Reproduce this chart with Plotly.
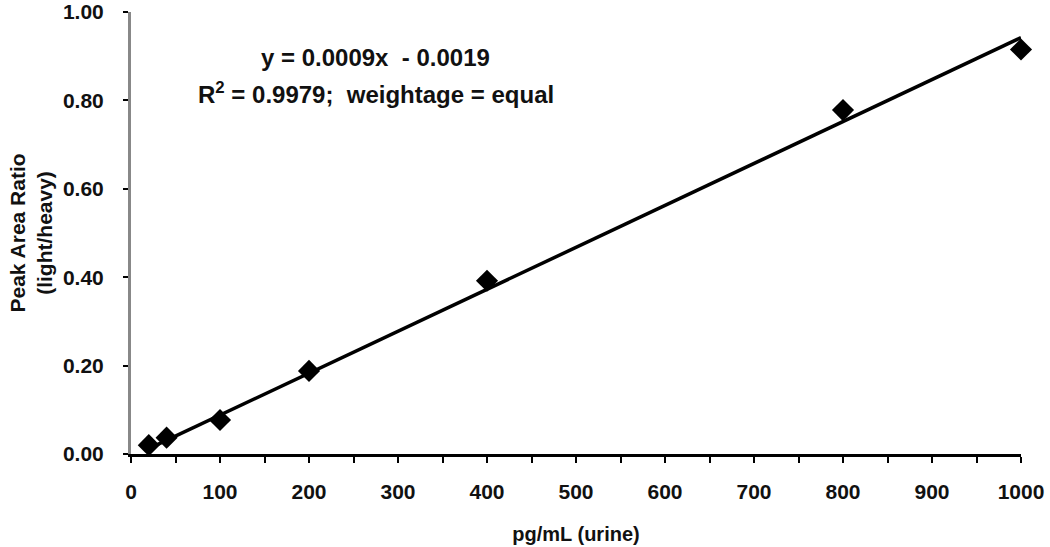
import plotly.graph_objects as go

# Data
conc = [20, 40, 100, 200, 400, 800, 1000]
ratio = [0.020, 0.037, 0.077, 0.188, 0.392, 0.778, 0.915]
trend_x = [20, 1000]
trend_y = [0.012, 0.942]
x_ticks = [0, 100, 200, 300, 400, 500, 600, 700, 800, 900, 1000]
y_ticks = [0.0, 0.2, 0.4, 0.6, 0.8, 1.0]
y_tick_text = ["0.00", "0.20", "0.40", "0.60", "0.80", "1.00"]
eq_line1 = "y = 0.0009x  - 0.0019"
eq_line2 = "R<sup>2</sup> = 0.9979;  weightage = equal"

FONT = "Liberation Sans, Arial, sans-serif"

fig = go.Figure()
fig.add_trace(go.Scatter(
    x=trend_x, y=trend_y, mode="lines",
    line=dict(color="black", width=3.5), showlegend=False, hoverinfo="skip"))
fig.add_trace(go.Scatter(
    x=conc, y=ratio, mode="markers",
    marker=dict(symbol="diamond", size=17, color="black"),
    showlegend=False, cliponaxis=False))

fig.add_annotation(
    x=275, y=0.898, xref="x", yref="y", showarrow=False,
    text="<b>" + eq_line1 + "</b>",
    font=dict(family=FONT, size=24, color="#111"))
fig.add_annotation(
    x=275, y=0.817, xref="x", yref="y", showarrow=False,
    text="<b>" + eq_line2 + "</b>",
    font=dict(family=FONT, size=24, color="#111"))

fig.update_layout(
    width=1050, height=547,
    margin=dict(l=131, r=29, t=12, b=93),
    paper_bgcolor="white", plot_bgcolor="white",
    font=dict(family=FONT, color="#111"),
    xaxis=dict(
        range=[0, 1000], tickvals=x_ticks, ticks="outside", ticklen=6, tickwidth=2,
        tickcolor="black", showline=True, linecolor="black", linewidth=2.5,
        showgrid=False, zeroline=False, automargin=False,
        tickfont=dict(family=FONT, size=21, color="#111", weight="bold"),
        ticklabelstandoff=11,
        minor=dict(dtick=50, ticks="outside", ticklen=6, tickwidth=2, tickcolor="black", showgrid=False),
        title=dict(text="<b>pg/mL (urine)</b>", font=dict(family=FONT, size=20, color="#111"), standoff=26),
    ),
    yaxis=dict(
        range=[0, 1.0], tickvals=y_ticks, ticktext=y_tick_text, ticks="outside", ticklen=5,
        tickwidth=2, tickcolor="black", showline=True, linecolor="#888", linewidth=3,
        showgrid=False, zeroline=False, automargin=False,
        tickfont=dict(family=FONT, size=21, color="#111", weight="bold"),
        ticklabelstandoff=15,
        title=dict(text="<b>Peak Area Ratio<br>(light/heavy)</b>", font=dict(family=FONT, size=21, color="#111"), standoff=5),
    ),
)

# remove the page's default 8px body margin so the figure fills the window exactly
fig.write_html("out.html", config={"displayModeBar": False},
               post_script="document.body.style.margin='0';")
